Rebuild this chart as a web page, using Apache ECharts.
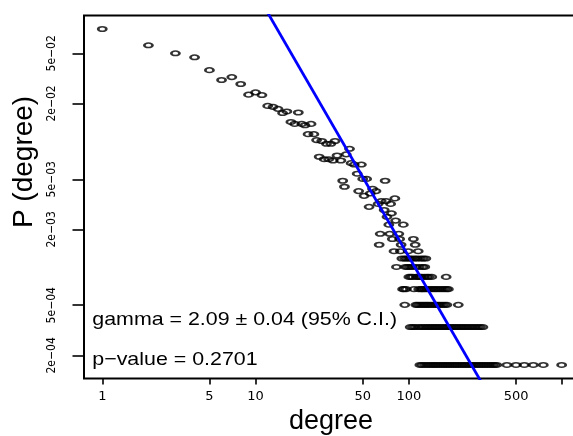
<!DOCTYPE html>
<html>
<head>
<meta charset="utf-8">
<script src="https://cdn.jsdelivr.net/npm/echarts@6/dist/echarts.min.js"></script>
<style>
html,body{margin:0;padding:0;background:#fff;}
#chart{width:573px;height:436px;}
</style>
</head>
<body>
<div id="chart"></div>
<script>
// ---- data ----
const totalNodes = 5960;

// degrees whose node count is large enough to sit on its own
const sparseDegree = [1,2,3,4,5,6,7,8,9,10,11,12,13,14,15,16,17,18,19,20,21,22,23,24,25,26,27,28,29,30,31,32,33,34,36,37,38,39,41,42,44,46,47,49,50,51,53,55,56,58,61,63,64,65,66,69,70,71,72,74,75,76,77,78,80,81,82,86,87,88,89,92,99,107,110,115];
const sparseCount  = [465,345,298,277,219,183,193,170,140,146,139,114,112,108,100,103,85,82,101,82,80,68,82,68,61,45,60,43,57,43,57,42,60,46,42,29,26,47,52,40,39,33,24,39,30,22,30,18,23,25,24,19,9,11,20,17,29,20,15,13,11,19,16,10,8,21,14,11,10,8,9,13,8,10,9,8];

// degrees that share a small node count (the horizontal rows at the bottom)
const countRow7 = [90,94,97,101,104,109,113,119,124,129];
const countRow6 = [83,95,98,102,105,111,117,123,127];
const countRow5 = [100,103,106,112,114,118,121,126,131,135,141,175];
const countRow4 = [91,93,96,108,116,120,122,125,128,132,137,142,147,152,158,164,170,176,181];
const countRow3 = [94,111,114,118,122,126,130,134,139,144,149,154,159,165,171,177,210];
const countRow2 = [102,106,110,116,121,126,131,136,141,146,151,156,162,168,174,180,187,194,201,208,216,224,232,241,250,260,270,281,292,304];
const countRow1 = [118,122,127,132,137,142,147,152,158,164,170,176,182,189,196,203,210,218,226,234,243,252,261,271,281,291,302,313,325,337,350,362,374,436,500,566,648,753,992];

// fitted power law (endpoints)
const fitDegree = [10, 300];
const fitProb   = [0.154, 1.2e-4];

// axis ticks
const xTickValues = [1, 5, 10, 50, 100, 500, 1000];
const xTickLabels = ['1', '5', '10', '50', '100', '500', ''];
const yTickValues = [2e-4, 5e-4, 2e-3, 5e-3, 2e-2, 5e-2];
const yTickLabels = ['2e\u221204', '5e\u221204', '2e\u221203', '5e\u221203', '2e\u221202', '5e\u221202'];

const annotation1 = 'gamma = 2.09 \u00b1 0.04 (95% C.I.)';
const annotation2 = 'p\u2212value = 0.2701';

// ---- build series data ----
const points = [];
sparseDegree.forEach((d, i) => points.push([d, sparseCount[i] / totalNodes]));
[[1, countRow1], [2, countRow2], [3, countRow3], [4, countRow4], [5, countRow5], [6, countRow6], [7, countRow7]]
  .forEach(([c, arr]) => arr.forEach(d => points.push([d, c / totalNodes])));
const fitLine = fitDegree.map((d, i) => [d, fitProb[i]]);

function labelFor(values, labels) {
  return function (v) {
    for (let i = 0; i < values.length; i++) {
      if (Math.abs(Math.log10(values[i]) - Math.log10(v)) < 1e-6) return labels[i];
    }
    return '';
  };
}

const chart = echarts.init(document.getElementById('chart'), null, {renderer: 'canvas'});
chart.setOption({
  animation: false,
  backgroundColor: '#fff',
  grid: {
    left: 84, right: -5, top: 15.4, bottom: 57.5,
    show: true, borderColor: '#000', borderWidth: 2,
    containLabel: false, outerBoundsMode: 'none'
  },
  xAxis: {
    type: 'log', logBase: 10, min: 0.76, max: 1268,
    axisLine: {show: false},
    splitLine: {show: false},
    minorTick: {show: false},
    axisTick: {show: true, customValues: xTickValues, length: 6, lineStyle: {color: '#000', width: 1.6}},
    axisLabel: {
      customValues: xTickValues.slice(0, 6),
      formatter: labelFor(xTickValues, xTickLabels),
      fontSize: 13, fontFamily: 'DejaVu Sans', color: '#000', margin: 12
    },
    name: 'degree', nameLocation: 'middle', nameGap: 27,
    nameTextStyle: {fontSize: 27, fontFamily: 'Liberation Sans', color: '#000'}
  },
  yAxis: {
    type: 'log', logBase: 10, min: 1.31e-4, max: 0.1,
    axisLine: {show: false},
    splitLine: {show: false},
    minorTick: {show: false},
    axisTick: {show: true, customValues: yTickValues, length: 11.5, lineStyle: {color: '#000', width: 1.6}},
    axisLabel: {
      customValues: yTickValues,
      formatter: labelFor(yTickValues, yTickLabels),
      rotate: 90,
      fontSize: 12, fontFamily: "'Liberation Sans Narrow', 'DejaVu Sans Condensed', sans-serif", color: '#000', margin: 26
    },
    name: 'P (degree)', nameLocation: 'middle', nameGap: 44,
    nameTextStyle: {fontSize: 28, fontFamily: 'Liberation Sans', color: '#000', padding: [0, 0, 0, 70]}
  },
  series: [
    {
      type: 'scatter',
      data: points,
      symbol: 'circle',
      symbolSize: [8.2, 4.6],
      itemStyle: {color: 'rgba(0,0,0,0)', borderColor: '#000', borderWidth: 2},
      z: 2
    },
    {
      type: 'line',
      data: fitLine,
      showSymbol: false,
      clip: true,
      lineStyle: {color: '#0000ff', width: 2.8},
      z: 3
    }
  ],
  graphic: [
    {type: 'text', x: 92.3, y: 320, scaleX: 1.15,
     style: {text: annotation1, font: '18.6px "Liberation Sans"', fill: '#000', align: 'left', verticalAlign: 'middle'}},
    {type: 'text', x: 92.3, y: 360, scaleX: 1.15,
     style: {text: annotation2, font: '18.6px "Liberation Sans"', fill: '#000', align: 'left', verticalAlign: 'middle'}}
  ]
});
</script>
</body>
</html>
